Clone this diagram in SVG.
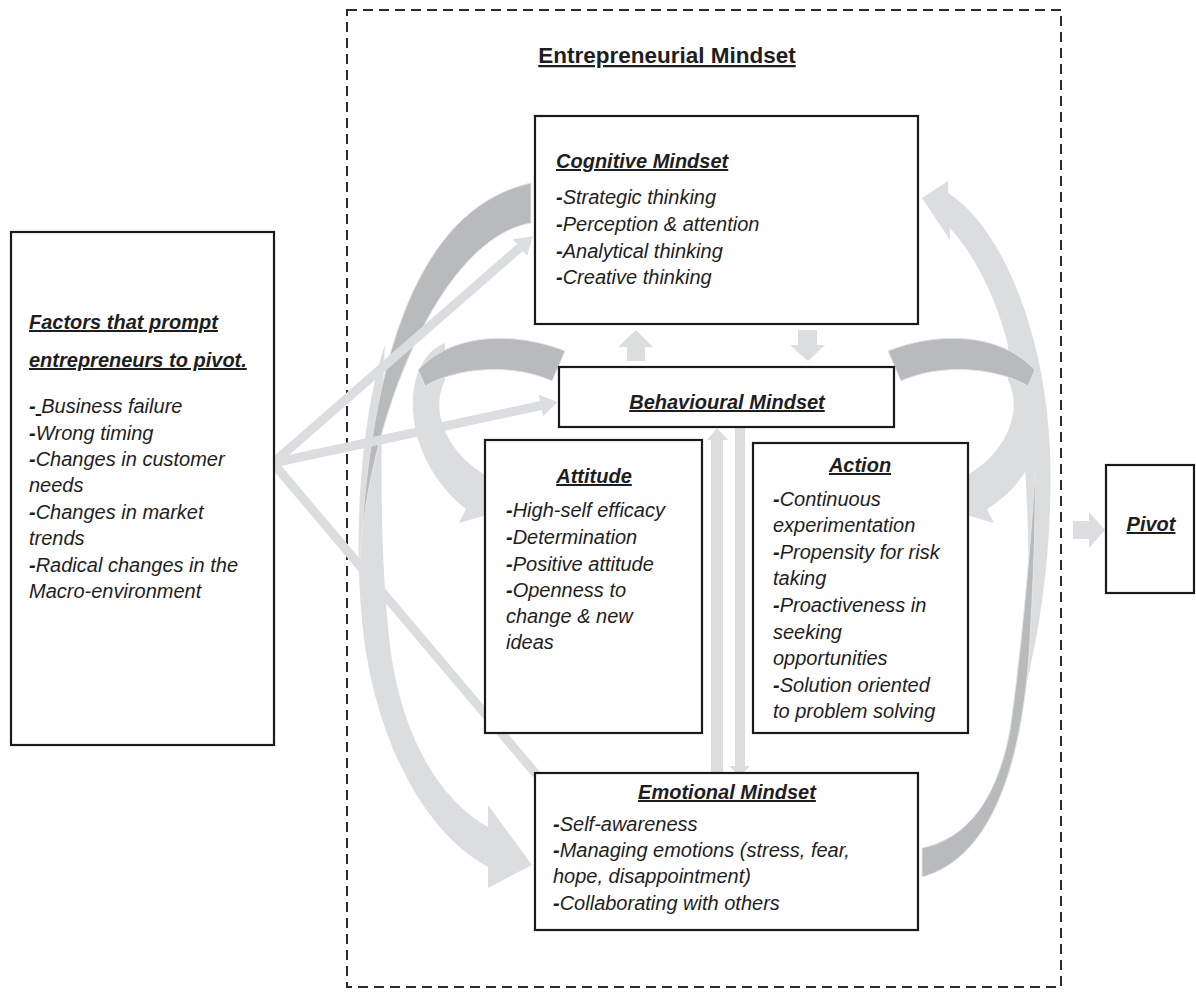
<svg xmlns="http://www.w3.org/2000/svg" width="1196" height="992" viewBox="0 0 1196 992">
<defs>
<style>
.box{fill:#fff;stroke:#1a1a1a;stroke-width:2.2}
.t{font-family:"Liberation Sans",Arial,sans-serif;font-size:20px;font-style:italic;fill:#1e1e1e}
.h{font-weight:bold;text-decoration:underline}
.b{font-weight:bold}
.dark{fill:#b9babc;stroke:#e4e5e6;stroke-width:1}
.light{fill:#dcdddf}
.ln{stroke:#dcdddf;stroke-width:9;fill:none}
.frame{fill:none;stroke:#2a2a2a;stroke-width:2;stroke-dasharray:10 6}
</style>
<marker id="ah" markerUnits="userSpaceOnUse" markerWidth="20" markerHeight="24" viewBox="0 -12 18 24" refX="0" refY="0" orient="auto">
<path d="M0,-11 L17,0 L0,11 Z" fill="#dcdddf"/>
</marker>
</defs>
<rect width="1196" height="992" fill="#fff"/>

<g id="frame">
<rect class="frame" x="347" y="10" width="714" height="977"/>
<text class="t b" x="667" y="63" text-anchor="middle" style="font-style:normal;font-size:22.5px;text-decoration:underline">Entrepreneurial Mindset</text>
</g>

<g id="connectors">
<!-- left sweep -->
<path class="light" d="M385 345 C365 400 352 520 362 620 C372 730 420 830 488 867 L488 888 L532 865 L488 805 L488 827 C440 800 405 740 392 660 C382 590 378 470 385 345 Z"/>
<path class="dark" d="M531 183 C430 205 372 330 360 560 C368 420 440 238 531 223 Z"/>
<!-- right sweep -->
<path class="light" d="M948 193 C1000 225 1045 330 1050 450 C1053 540 1042 620 1025 690 C1030 620 1030 540 1024 450 C1018 345 988 268 948 226 Z"/>
<polygon class="light" points="948,181 922,198 950,240"/>
<path class="dark" d="M922 877 C985 860 1022 780 1030 640 C1034 570 1036 510 1035 470 C1030 560 1020 660 1010 730 C995 810 960 840 922 848 Z"/>
<!-- behavioural left -->
<path class="light" d="M445 343 C400 360 398 455 466 509 L459 523 L504 510 L490 462 L484 474 C445 450 430 410 445 380 Z"/>
<path class="dark" d="M565 351 C520 333 455 330 418 370 L425 386 C460 366 515 364 552 381 Z"/>
<!-- behavioural right -->
<path class="light" d="M1008 343 C1058 362 1060 465 987 509 L994 523 L949 510 L963 462 L969 474 C1008 450 1023 410 1008 380 Z"/>
<path class="dark" d="M888 351 C933 333 998 330 1035 370 L1028 386 C993 366 938 364 901 381 Z"/>
<!-- small arrows -->
<polygon class="light" points="627,361 627,347 618,347 636,330 653,347 645,347 645,361"/>
<polygon class="light" points="798,330 817,330 817,345 825,345 808,361 790,345 798,345"/>
<polygon class="light" points="711,773 711,440 707,440 717,428 728,440 723,440 723,773"/>
<polygon class="light" points="735,428 745,428 745,766 750,766 740,776 729,766 735,766"/>
<polygon class="light" points="1073,521 1089,521 1089,512 1105,530 1089,548 1089,539 1073,539"/>
<!-- straight lines -->
<line class="ln" x1="273" y1="463" x2="520" y2="247.5" marker-end="url(#ah)"/>
<line class="ln" x1="273" y1="463" x2="541" y2="405.5" marker-end="url(#ah)"/>
<line class="ln" x1="273" y1="463" x2="536" y2="774"/>
</g>

<g id="factors">
<rect class="box" x="11" y="232" width="263" height="513"/>
<text class="t h" x="29" y="329">Factors that prompt</text>
<text class="t h" x="29" y="367">entrepreneurs to pivot.</text>
<text class="t" x="29" y="413"><tspan class="b">-</tspan><tspan style="text-decoration:underline"> </tspan>Business failure</text>
<text class="t" x="29" y="440"><tspan class="b">-</tspan>Wrong timing</text>
<text class="t" x="29" y="466"><tspan class="b">-</tspan>Changes in customer</text>
<text class="t" x="29" y="492">needs</text>
<text class="t" x="29" y="519"><tspan class="b">-</tspan>Changes in market</text>
<text class="t" x="29" y="545">trends</text>
<text class="t" x="29" y="572"><tspan class="b">-</tspan>Radical changes in the</text>
<text class="t" x="29" y="598">Macro-environment</text>
</g>

<g id="cognitive">
<rect class="box" x="535" y="116" width="383" height="208"/>
<text class="t h" x="556" y="168">Cognitive Mindset</text>
<text class="t" x="556" y="204"><tspan class="b">-</tspan>Strategic thinking</text>
<text class="t" x="556" y="231"><tspan class="b">-</tspan>Perception &amp; attention</text>
<text class="t" x="556" y="258"><tspan class="b">-</tspan>Analytical thinking</text>
<text class="t" x="556" y="284"><tspan class="b">-</tspan>Creative thinking</text>
</g>

<g id="behavioural">
<rect class="box" x="559" y="367" width="335" height="60"/>
<text class="t h" x="727" y="409" text-anchor="middle">Behavioural Mindset</text>
</g>

<g id="attitude">
<rect class="box" x="485" y="440" width="217" height="293"/>
<text class="t h" x="594" y="483" text-anchor="middle">Attitude</text>
<text class="t" x="506" y="517"><tspan class="b">-</tspan>High-self efficacy</text>
<text class="t" x="506" y="544"><tspan class="b">-</tspan>Determination</text>
<text class="t" x="506" y="571"><tspan class="b">-</tspan>Positive attitude</text>
<text class="t" x="506" y="597"><tspan class="b">-</tspan>Openness to</text>
<text class="t" x="506" y="623">change &amp; new</text>
<text class="t" x="506" y="649">ideas</text>
</g>

<g id="action">
<rect class="box" x="753" y="443" width="215" height="290"/>
<text class="t h" x="860" y="472" text-anchor="middle">Action</text>
<text class="t" x="773" y="506"><tspan class="b">-</tspan>Continuous</text>
<text class="t" x="773" y="532">experimentation</text>
<text class="t" x="773" y="559"><tspan class="b">-</tspan>Propensity for risk</text>
<text class="t" x="773" y="585">taking</text>
<text class="t" x="773" y="612"><tspan class="b">-</tspan>Proactiveness in</text>
<text class="t" x="773" y="639">seeking</text>
<text class="t" x="773" y="665">opportunities</text>
<text class="t" x="773" y="692"><tspan class="b">-</tspan>Solution oriented</text>
<text class="t" x="773" y="718">to problem solving</text>
</g>

<g id="emotional">
<rect class="box" x="535" y="773" width="383" height="157"/>
<text class="t h" x="727" y="799" text-anchor="middle">Emotional Mindset</text>
<text class="t" x="553" y="831"><tspan class="b">-</tspan>Self-awareness</text>
<text class="t" x="553" y="857"><tspan class="b">-</tspan>Managing emotions (stress, fear,</text>
<text class="t" x="553" y="883">hope, disappointment)</text>
<text class="t" x="553" y="910"><tspan class="b">-</tspan>Collaborating with others</text>
</g>

<g id="pivot">
<rect class="box" x="1106" y="465" width="88" height="128"/>
<text class="t h" x="1151" y="531" text-anchor="middle">Pivot</text>
</g>
</svg>
